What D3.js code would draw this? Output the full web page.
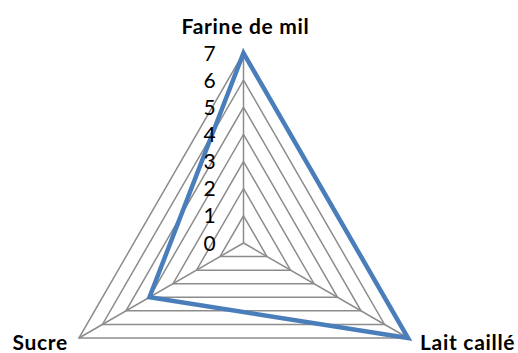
<!DOCTYPE html>
<html>
<head>
<meta charset="utf-8">
<script src="https://cdn.jsdelivr.net/npm/d3@7"></script>
<style>
  html, body { margin: 0; padding: 0; background: #fff; }
  svg { display: block; }
  text { font-family: Lato, "Open Sans", "Liberation Sans", sans-serif; fill: #000; }
</style>
</head>
<body>
<div id="chart"></div>
<script>
// Radar chart: three ingredients on a 0–7 scale
const categories = ["Farine de mil", "Lait caillé", "Sucre"];
const values = [7, 7, 4];
const tickLabels = [0, 1, 2, 3, 4, 5, 6, 7];

const width = 518, height = 353;
const cx = 243.5, cy = 243, R = 190;

const svg = d3.select("#chart").append("svg")
  .attr("width", width).attr("height", height);

const r = d3.scaleLinear().domain([0, 7]).range([0, R]);
const angle = d3.scalePoint().domain(categories).range([0, 2 * Math.PI * (categories.length - 1) / categories.length]);

const pt = (cat, v) => {
  const a = angle(cat);
  return [cx + r(v) * Math.sin(a), cy - r(v) * Math.cos(a)];
};

const radial = d3.line().curve(d3.curveLinearClosed);

// concentric grid rings
svg.append("g").selectAll("path")
  .data(tickLabels.filter(t => t > 0))
  .join("path")
  .attr("d", t => radial(categories.map(c => pt(c, t))))
  .attr("fill", "none")
  .attr("stroke", "#8c8c8c")
  .attr("stroke-width", 1.5);

// spokes
svg.append("g").selectAll("line")
  .data(categories)
  .join("line")
  .attr("x1", cx).attr("y1", cy)
  .attr("x2", c => pt(c, 7)[0]).attr("y2", c => pt(c, 7)[1])
  .attr("stroke", "#8c8c8c")
  .attr("stroke-width", 1.5);

// series polygon
svg.append("path")
  .attr("d", radial(categories.map((c, i) => pt(c, values[i]))))
  .attr("fill", "none")
  .attr("stroke", "#4a7ebb")
  .attr("stroke-width", 4.5)
  .attr("stroke-linejoin", "miter");

// value axis labels
svg.append("g").selectAll("text")
  .data(tickLabels)
  .join("text")
  .attr("x", cx - 34)
  .attr("y", t => cy - r(t))
  .attr("dy", "0.36em")
  .attr("text-anchor", "middle")
  .attr("font-size", 21)
  .text(t => t);

// category labels
const catPos = {
  "Farine de mil": { x: cx + 2, y: 34, anchor: "middle" },
  "Lait caillé": { x: 420, y: 350, anchor: "start" },
  "Sucre": { x: 68, y: 350, anchor: "end" }
};
svg.append("g").selectAll("text")
  .data(categories)
  .join("text")
  .attr("x", c => catPos[c].x)
  .attr("y", c => catPos[c].y)
  .attr("text-anchor", c => catPos[c].anchor)
  .attr("font-size", 21)
  .attr("font-weight", "bold")
  .attr("letter-spacing", 0.7)
  .text(c => c);
</script>
</body>
</html>
